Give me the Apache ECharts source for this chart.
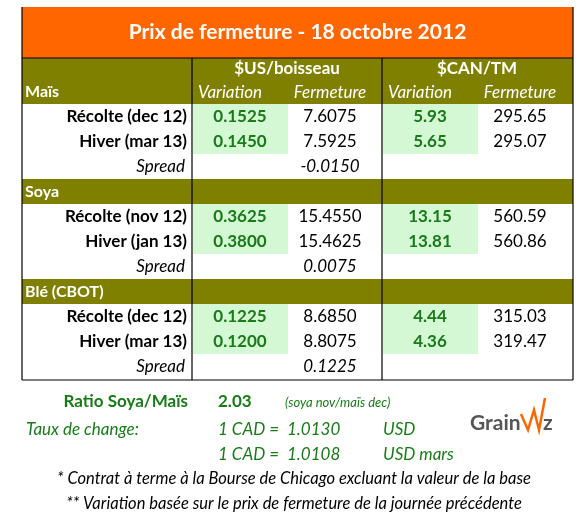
<!DOCTYPE html>
<html><head><meta charset="utf-8">
<script src="https://cdn.jsdelivr.net/npm/echarts@6/dist/echarts.min.js"></script>
<style>html,body{margin:0;background:#fff}#chart{width:585px;height:528px}</style>
</head><body><div id="chart"></div>
<script>
const chart = echarts.init(document.getElementById('chart'));

const title = 'Prix de fermeture - 18 octobre 2012';
const groupHeaders = ['$US/boisseau', '$CAN/TM'];
const colHeaders = ['Variation', 'Fermeture', 'Variation', 'Fermeture'];
const sections = ['Maïs', 'Soya', 'Blé (CBOT)'];
const rowLabels = [
  ['Récolte (dec 12)', 'Hiver (mar 13)'],
  ['Récolte (nov 12)', 'Hiver (jan 13)'],
  ['Récolte (dec 12)', 'Hiver (mar 13)']
];
const usVariation = [['0.1525', '0.1450'], ['0.3625', '0.3800'], ['0.1225', '0.1200']];
const usClose = [['7.6075', '7.5925'], ['15.4550', '15.4625'], ['8.6850', '8.8075']];
const canVariation = [['5.93', '5.65'], ['13.15', '13.81'], ['4.44', '4.36']];
const canClose = [['295.65', '295.07'], ['560.59', '560.86'], ['315.03', '319.47']];
const spreads = ['-0.0150', '0.0075', '0.1225'];
const ratio = '2.03';
const fx = ['1.0130', '1.0108'];
const fxUnits = ['USD', 'USD mars'];
const notes = [
  '* Contrat à terme à la Bourse de Chicago excluant la valeur de la base',
  '** Variation basée sur le prix de fermeture de la journée précédente'
];

const FONT = 'Lato, "Open Sans", sans-serif';
const OLIVE = '#808000', ORANGE = '#ff6600', GREEN = '#1a7a1a', LIGHT = '#d4f7d4';
const L = 22, R = 573, C1 = 192, C2 = 382;
const colX = [240, 330, 430, 520];
const g = [];
const rect = (x, y, w, h, fill) => g.push({ type: 'rect', shape: { x, y, width: w, height: h }, style: { fill } });
const txt = (x, y, t, o = {}) => g.push({ type: 'text', x, y, style: {
  text: t, font: (o.italic ? 'italic ' : '') + (o.bold ? 'bold ' : '') + (o.size || 16) + 'px ' + FONT,
  fill: o.fill || '#000', align: o.align || 'center', verticalAlign: 'middle' } });
const line = (x1, y1, x2, y2) => g.push({ type: 'line', shape: { x1, y1, x2, y2 }, style: { stroke: '#000', lineWidth: 1.2 } });

rect(L, 7, R - L, 51, ORANGE);
txt((L + R) / 2, 32, title, { bold: true, size: 21, fill: '#fff' });
rect(L, 58, R - L, 46, OLIVE);
txt(287, 69, groupHeaders[0], { bold: true, size: 17, fill: '#fff' });
txt(477, 69, groupHeaders[1], { bold: true, size: 17, fill: '#fff' });
colHeaders.forEach((h, i) => txt(colX[i] - (i % 2 ? 0 : 10), 93, h, { italic: true, size: 17, fill: '#fff' }));

sections.forEach((s, si) => {
  const top = 104 + si * 100;
  const bandY = top - 25;
  if (si > 0) rect(L, bandY, R - L, 25, OLIVE);
  txt(25, bandY + 13, s, { bold: true, fill: '#fff', align: 'left' });
  rect(C1 + 1, top, 95, 50, LIGHT);
  rect(C2 + 1, top, 95, 50, LIGHT);
  rowLabels[si].forEach((lab, ri) => {
    const y = top + 13 + ri * 25;
    txt(187, y, lab, { bold: true, size: 17, align: 'right' });
    txt(colX[0], y, usVariation[si][ri], { bold: true, size: 17, fill: GREEN });
    txt(colX[1], y, usClose[si][ri], { size: 17 });
    txt(colX[2], y, canVariation[si][ri], { bold: true, size: 17, fill: GREEN });
    txt(colX[3], y, canClose[si][ri], { size: 17 });
  });
  txt(185, top + 63, 'Spread', { italic: true, size: 17, align: 'right' });
  txt(colX[1], top + 63, spreads[si], { italic: true, size: 17 });
});

line(L, 7, L, 380); line(R, 7, R, 380); line(L, 380, R, 380); line(L, 58, R, 58);
line(C1, 58, C1, 380); line(C2, 58, C2, 380);

txt(188, 402, 'Ratio Soya/Maïs', { bold: true, size: 17, fill: GREEN, align: 'right' });
txt(218, 402, ratio, { bold: true, size: 17, fill: GREEN, align: 'left' });
txt(285, 403, '(soya nov/maïs dec)', { italic: true, size: 13, fill: GREEN, align: 'left' });
txt(26, 430, 'Taux de change:', { italic: true, size: 17, fill: GREEN, align: 'left' });
fx.forEach((v, i) => {
  const y = 430 + i * 25;
  txt(218, y, '1 CAD =  ' + v, { italic: true, size: 17, fill: GREEN, align: 'left' });
  txt(383, y, fxUnits[i], { italic: true, size: 17, fill: GREEN, align: 'left' });
});
notes.forEach((n, i) => txt(294, 479 + i * 25, n, { italic: true, size: 16.5 }));

// logo
txt(470, 423, 'Grain', { bold: true, size: 21, fill: '#555', align: 'left' });
txt(543, 423, 'z', { bold: true, size: 21, fill: '#555', align: 'left' });
g.push({ type: 'polyline', shape: { points: [[521, 414], [528, 430], [534, 410], [539, 430], [545, 398]] }, style: { stroke: ORANGE, lineWidth: 2.5, fill: null } });

chart.setOption({ graphic: { elements: g } });
</script></body></html>
